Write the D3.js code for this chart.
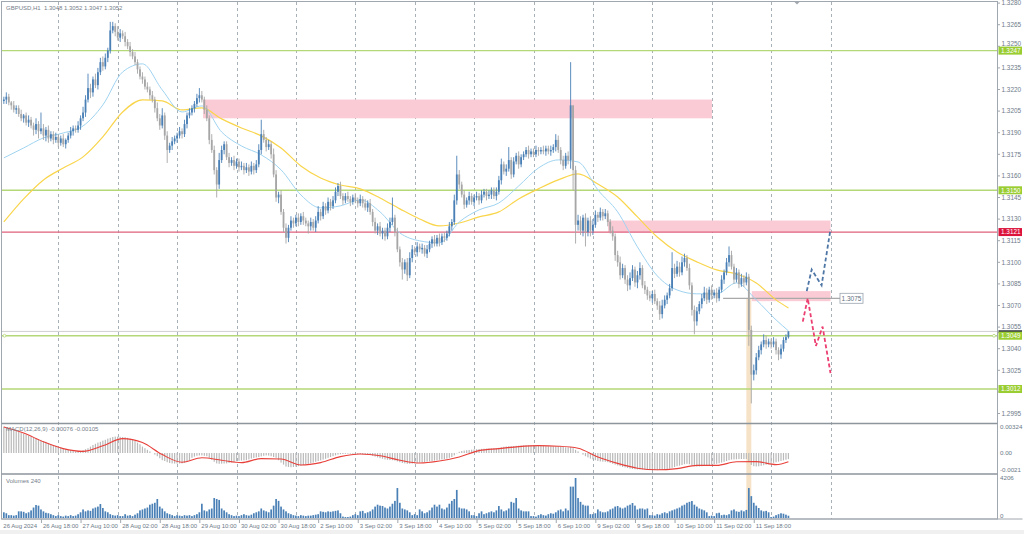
<!DOCTYPE html>
<html><head><meta charset="utf-8">
<script src="https://cdn.jsdelivr.net/npm/d3@7"></script>
<style>
body{margin:0;background:#fff}
svg{display:block}
text{font-family:"Liberation Sans",Arial,sans-serif}
</style>
</head><body>
<svg id="c" width="1024" height="534"></svg>
<script>
// ---------------- DATA ----------------
const firstOpen = 1.3212;
const closes = [
1.3213,1.3215,1.3211,1.3209,1.3206,1.3207,1.3203,1.3200,1.3202,1.3197,
1.3199,1.3195,1.3192,1.3196,1.3191,1.3193,1.3188,1.3192,1.3186,1.3189,
1.3185,1.3187,1.3183,1.3186,1.3182,1.3185,1.3188,1.3191,1.3193,1.3192,
1.3195,1.3200,1.3204,1.3213,1.3221,1.3218,1.3227,1.3223,1.3232,1.3239,
1.3236,1.3242,1.3247,1.3261,1.3264,1.3260,1.3256,1.3259,1.3257,1.3253,
1.3250,1.3246,1.3243,1.3239,1.3234,1.3229,1.3227,1.3222,1.3220,1.3216,
1.3213,1.3207,1.3200,1.3195,1.3202,1.3188,1.3178,1.3181,1.3184,1.3186,
1.3188,1.3191,1.3189,1.3196,1.3202,1.3204,1.3207,1.3210,1.3214,1.3216,
1.3213,1.3206,1.3200,1.3185,1.3178,1.3164,1.3154,1.3171,1.3178,1.3182,
1.3173,1.3169,1.3171,1.3167,1.3170,1.3166,1.3167,1.3164,1.3166,1.3163,
1.3167,1.3164,1.3168,1.3178,1.3189,1.3185,1.3180,1.3182,1.3175,1.3161,
1.3145,1.3147,1.3135,1.3124,1.3117,1.3124,1.3129,1.3127,1.3131,1.3128,
1.3132,1.3129,1.3127,1.3125,1.3128,1.3124,1.3129,1.3135,1.3132,1.3139,
1.3136,1.3142,1.3139,1.3143,1.3149,1.3153,1.3146,1.3143,1.3146,1.3144,
1.3142,1.3145,1.3143,1.3141,1.3144,1.3141,1.3138,1.3141,1.3135,1.3128,
1.3122,1.3125,1.3120,1.3122,1.3118,1.3124,1.3128,1.3131,1.3121,1.3109,
1.3100,1.3095,1.3100,1.3091,1.3103,1.3109,1.3107,1.3111,1.3109,1.3110,
1.3106,1.3109,1.3113,1.3116,1.3113,1.3117,1.3114,1.3118,1.3117,1.3120,
1.3125,1.3128,1.3143,1.3161,1.3154,1.3147,1.3140,1.3143,1.3146,1.3142,
1.3145,1.3146,1.3143,1.3147,1.3149,1.3146,1.3147,1.3150,1.3146,1.3149,
1.3157,1.3168,1.3163,1.3165,1.3171,1.3161,1.3170,1.3174,1.3168,1.3173,
1.3175,1.3178,1.3175,1.3177,1.3175,1.3178,1.3177,1.3178,1.3177,1.3179,
1.3177,1.3178,1.3180,1.3185,1.3178,1.3171,1.3167,1.3174,1.3171,1.3209,
1.3164,1.3126,1.3129,1.3122,1.3131,1.3121,1.3129,1.3122,1.3126,1.3133,
1.3131,1.3135,1.3132,1.3134,1.3128,1.3122,1.3118,1.3105,1.3100,1.3091,
1.3096,1.3088,1.3084,1.3089,1.3095,1.3086,1.3091,1.3096,1.3084,1.3081,
1.3077,1.3075,1.3078,1.3073,1.3070,1.3064,1.3070,1.3074,1.3077,1.3082,
1.3096,1.3092,1.3097,1.3093,1.3100,1.3103,1.3096,1.3084,1.3067,1.3059,
1.3066,1.3071,1.3075,1.3079,1.3074,1.3081,1.3077,1.3079,1.3075,1.3081,
1.3088,1.3093,1.3100,1.3105,1.3097,1.3088,1.3093,1.3085,1.3089,1.3086,
1.3090,1.3053,1.3022,1.3025,1.3034,1.3039,1.3043,1.3046,1.3043,1.3045,
1.3043,1.3045,1.3039,1.3036,1.3040,1.3046,1.3048,1.3052];
// wick lengths beyond the body, in pips (0.0001)
const upWick = [
2,3,2,1,3,2,2,3,1,2, 3,2,2,4,2,11,3,2,3,2, 2,3,2,2,3,1,2,3,2,2, 3,2,4,3,10,3,2,4,3,3,
4,3,2,6,3,2,4,3,2,3, 2,3,2,3,2,2,3,2,3,2, 3,2,4,3,5,2,3,2,3,2, 2,3,2,3,2,3,2,2,3,5,
3,2,3,2,4,3,2,5,3,2, 2,3,2,3,2,2,3,2,3,2, 3,2,3,4,10,3,2,3,2,4, 3,2,3,2,3,2,3,2,2,3,
2,3,2,2,3,2,3,4,2,3, 2,3,2,3,3,2,3,2,2,3, 2,2,3,2,3,2,3,2,3,2, 3,2,3,2,2,3,3,14,2,3,
2,3,2,3,4,3,2,3,2,3, 2,3,2,2,3,2,3,2,3,2, 3,2,4,13,3,2,3,2,3,2, 2,3,2,3,2,2,3,2,2,3,
3,4,2,3,9,2,3,2,3,2, 2,2,3,2,2,3,2,2,3,2, 2,3,2,4,3,2,3,2,3,30, 0,3,4,3,2,3,2,3,4,3,
2,3,2,3,2,2,3,2,3,4, 3,2,3,4,3,2,3,4,2,3, 2,3,2,3,2,3,4,3,2,3, 11,3,4,3,4,3,2,3,2,3,
3,2,3,4,3,2,3,2,3,2, 3,2,3,6,3,2,3,2,3,2, 3,2,3,4,3,3,2,4,3,2, 2,3,2,2,3,2,2,0];
const downWick = [
2,3,2,3,2,3,2,2,3,2, 3,2,4,3,5,2,3,4,3,2, 3,2,3,2,2,3,2,2,3,2, 2,3,2,3,2,4,3,2,3,2,
3,2,3,2,2,3,2,3,2,3, 2,3,2,2,3,2,3,2,2,3, 2,3,2,3,2,3,9,2,3,2, 3,2,3,2,3,2,2,3,2,3,
2,3,2,3,2,3,9,3,2,3, 2,3,2,3,2,3,2,3,2,3, 2,3,2,2,3,2,3,2,3,2, 3,4,2,3,4,3,2,3,2,3,
2,3,2,5,3,2,3,2,3,2, 3,2,3,2,2,3,2,3,2,2, 3,2,2,3,2,3,2,3,2,3, 2,3,2,4,3,2,3,2,3,2,
3,7,3,4,2,3,2,3,2,3, 2,3,2,3,2,2,3,2,3,2, 2,3,2,3,3,2,3,2,3,2, 3,2,3,2,2,3,2,3,2,3,
2,3,2,3,2,3,2,2,3,2, 2,2,3,2,2,2,3,2,2,3, 2,3,2,3,2,3,3,2,3,6, 14,13,4,3,4,10,3,4,3,2,
3,2,3,2,3,2,3,4,3,3, 2,3,4,3,2,3,4,3,2,3, 3,2,3,2,3,4,3,2,3,2, 2,3,2,3,2,3,2,3,4,9,
3,2,3,2,3,2,3,2,3,2, 2,3,2,3,2,3,2,3,2,3, 2,11,20,4,3,2,3,2,3,2, 3,2,3,4,3,2,2,1];
const volumes = [
600,500,300,300,250,300,700,700,650,500,600,800,1100,1365,1300,900,700,550,500,400,300,200,
300,200,150,250,200,300,200,250,400,600,900,700,800,750,1000,1100,1200,1470,1050,700,600,400,300,250,
300,200,200,400,250,300,200,350,500,800,900,1000,1100,1400,1500,1600,2000,1200,1000,700,500,400,300,200,
300,250,200,300,250,300,200,300,400,600,1500,800,700,900,1000,2100,2000,1900,1000,800,600,400,300,200,
250,200,300,400,300,250,350,500,600,700,1000,800,700,600,900,1300,2000,1800,1200,900,700,500,400,300,
250,200,300,250,200,250,250,300,350,400,700,650,600,700,650,700,750,800,500,150,100,100,150,300,
400,300,700,750,500,600,700,900,1200,1400,1300,1260,1100,1000,1200,1500,1800,3150,1600,1000,900,800,600,300,
400,300,900,700,500,600,800,1100,1400,1200,1400,1000,900,1100,1500,1800,2000,2950,1100,1000,1000,900,700,300,
300,200,500,700,400,500,600,700,600,800,1260,900,700,800,1000,1700,1600,2100,1000,800,700,700,700,200,
200,150,300,400,300,250,400,500,450,600,800,900,700,1000,800,3300,3300,4206,2100,1700,1400,1300,1300,400,
400,500,900,700,600,600,700,900,1000,1200,1260,1100,1000,1100,1300,1400,1575,1300,900,1000,1000,900,1000,300,
300,250,400,350,500,600,500,700,800,900,1000,1100,1300,1400,1600,1700,1785,1400,1200,1000,900,800,600,200,
250,200,500,550,300,350,300,400,800,900,700,650,800,700,850,3150,2300,1600,1300,1050,800,700,750,600,
100,150,300,400,500,450,350,240];
// MACD main (histogram), in units of 0.00001
const macdHist = [
330,320,310,300,290,280,265,250,240,228,218,210,195,185,175,165,150,140,125,110,100,90,80,70,60,50,40,35,28,20,
20,25,35,48,60,80,100,115,130,140,155,165,180,190,200,205,205,202,200,198,190,180,165,150,130,110,80,60,40,20,
0,-20,-40,-65,-90,-100,-115,-125,-130,-132,-132,-131,-130,-125,-110,-90,-60,-45,-35,-30,-30,-35,-40,-60,-85,-110,-130,-135,-133,-131,
-130,-125,-118,-110,-100,-97,-95,-92,-90,-80,-70,-62,-55,-50,-42,-35,-30,-32,-40,-50,-60,-90,-120,-145,-170,-175,-178,-175,-170,-165,
-160,-150,-142,-135,-128,-120,-110,-100,-92,-82,-72,-60,-50,-40,-30,-20,-15,-12,-10,-8,-8,-10,-12,-14,-15,-16,-18,-20,-25,-35,
-45,-55,-65,-72,-80,-85,-88,-90,-95,-105,-115,-125,-130,-135,-135,-132,-128,-124,-120,-116,-112,-108,-104,-100,-95,-90,-85,-80,-75,-70,
-60,-50,-30,-5,15,25,30,35,38,42,45,48,50,52,54,55,56,57,58,60,65,72,78,82,85,86,88,90,92,93,
95,96,96,95,94,93,92,90,88,86,85,84,84,84,84,80,75,72,70,75,60,40,20,0,-20,-40,-55,-70,-80,-90,
-100,-105,-108,-110,-115,-125,-135,-145,-155,-165,-175,-180,-188,-195,-200,-203,-205,-206,-207,-208,-210,-212,-213,-214,-214,-212,-210,-205,-200,-195,
-185,-175,-165,-158,-150,-140,-135,-140,-155,-165,-170,-168,-165,-160,-155,-150,-145,-140,-135,-128,-120,-110,-100,-90,-82,-80,-78,-76,-75,-75,
-74,-110,-150,-165,-168,-166,-160,-153,-146,-140,-132,-124,-116,-108,-100,-92,-84,-76];
// sampled indicator lines (bar index -> value)
const lineBars = [0,8,16,24,32,40,48,56,64,72,80,88,96,104,112,120,128,136,144,152,160,168,176,184,192,200,208,216,224,232,240,248,256,264,272,280,288,296,304,312,317];
const maFast = [1.31725,1.31794,1.31864,1.31898,1.31947,1.32093,1.32322,1.32378,1.32197,1.32044,1.32086,1.31905,1.31808,1.31746,1.31642,1.31468,1.31378,1.31392,1.31433,1.31350,1.31204,1.31149,1.31135,1.31280,1.31364,1.31412,1.31530,1.31655,1.31711,1.31697,1.31503,1.31350,1.31107,1.30906,1.30808,1.30781,1.30781,1.30857,1.30739,1.30600,1.30524];
const maSlow = [1.31280,1.31440,1.31572,1.31655,1.31732,1.31871,1.32044,1.32128,1.32121,1.32058,1.32072,1.31996,1.31933,1.31878,1.31794,1.31669,1.31586,1.31537,1.31510,1.31447,1.31371,1.31301,1.31253,1.31273,1.31315,1.31350,1.31440,1.31510,1.31572,1.31614,1.31544,1.31454,1.31315,1.31176,1.31072,1.31003,1.30947,1.30919,1.30857,1.30739,1.30683];
const macdSignal = [325,250,140,55,20,90,180,130,-20,-115,-60,-90,-120,-70,-75,-150,-120,-45,-12,-35,-90,-125,-100,-50,30,55,80,92,85,60,-50,-130,-190,-210,-195,-155,-155,-110,-108,-145,-108];
// x axis
const timeLabels = ["26 Aug 2024","26 Aug 18:00","27 Aug 10:00","28 Aug 02:00","28 Aug 18:00","29 Aug 10:00","30 Aug 02:00","30 Aug 18:00","2 Sep 10:00","3 Sep 02:00","3 Sep 18:00","4 Sep 10:00","5 Sep 02:00","5 Sep 18:00","6 Sep 10:00","9 Sep 02:00","9 Sep 18:00","10 Sep 10:00","11 Sep 02:00","11 Sep 18:00"];
const timeLabelBars = [0,16,32,48,64,80,96,112,128,144,160,176,192,208,224,240,256,272,288,304];
const daySeparatorBars = [22,46,70,94,118,142,166,190,214,238,262,286,310,334];
const priceTicks = [1.2995,1.3010,1.3025,1.3040,1.3055,1.3070,1.3085,1.3100,1.3115,1.3130,1.3145,1.3160,1.3175,1.3190,1.3205,1.3220,1.3235,1.3250,1.3265,1.3280];
// levels & zones
const greenLevels = [1.3247,1.3150,1.3049,1.3012];
const redLevel = 1.3121;
const bidPrice = 1.3052;
const markLevel = 1.3075, markFromBar = 290.6;
const zoneFromBar = [80.5,244.1,302.2];
const zoneToBar = [286.1,334,334];
const zoneHigh = [1.3213,1.3129,1.3080];
const zoneLow = [1.3200,1.3121,1.3073];
const highlightBar = 301;
const bullPathBars = [324.4,326.4,330.4,334.0];
const bullPathPrices = [1.3080,1.3095,1.3084,1.3123];
const bearPathBars = [322.8,324.8,328.1,330.8,334.0];
const bearPathPrices = [1.30588,1.30750,1.30419,1.30553,1.30230];

// ---------------- CHART ----------------
const svg = d3.select("#c");
const W = 1024, H = 534, axisX = 997.5;
const x = d3.scaleLinear().domain([0,334]).range([3.85,830.5]);
const y = d3.scaleLinear().domain([1.2995,1.3280]).range([413.5,3.1]);
const yM = d3.scaleLinear().domain([-0.0021,0.00324]).range([469.8,427.1]);
const yV = d3.scaleLinear().domain([0,4206]).range([518,478]);

const bars = closes.map((c,i)=>{
  const o = i===0 ? firstOpen : closes[i-1];
  return {i, o, c, h: Math.max(o,c)+upWick[i]*0.0001, l: Math.min(o,c)-downWick[i]*0.0001, v: volumes[i], m: macdHist[i]*1e-5};
});

svg.append("rect").attr("width",W).attr("height",H).attr("fill","#fff");
svg.append("rect").attr("x",0).attr("y",530).attr("width",W).attr("height",4).attr("fill","#f0f0f0");

const defs = svg.append("defs");
defs.append("clipPath").attr("id","mainClip").append("rect").attr("x",2).attr("y",2).attr("width",axisX-2).attr("height",421);

// beige highlight column
svg.append("rect").attr("x",x(highlightBar-1)).attr("width",x(highlightBar+1)-x(highlightBar-1))
  .attr("y",y(markLevel)).attr("height",518-y(markLevel)).attr("fill","#f6e2c6");

// day separators
svg.append("g").selectAll("line").data(daySeparatorBars).join("line")
  .attr("x1",d=>Math.round(x(d))+0.5).attr("x2",d=>Math.round(x(d))+0.5)
  .attr("y1",2).attr("y2",519).attr("stroke","#a8b0b8").attr("stroke-width",1).attr("stroke-dasharray","3,3");

const main = svg.append("g").attr("clip-path","url(#mainClip)");

// zones
main.selectAll("rect.zone").data(zoneFromBar).join("rect").attr("class","zone")
  .attr("x",(d)=>x(d)).attr("width",(d,k)=>x(zoneToBar[k])-x(d))
  .attr("y",(d,k)=>y(zoneHigh[k])).attr("height",(d,k)=>y(zoneLow[k])-y(zoneHigh[k]))
  .attr("fill","#fbcbd5");

// level lines
main.append("line").attr("x1",2).attr("x2",axisX).attr("y1",y(bidPrice)).attr("y2",y(bidPrice)).attr("stroke","#cfcfcf").attr("stroke-width",1);
main.selectAll("line.g").data(greenLevels).join("line").attr("class","g")
  .attr("x1",2).attr("x2",axisX).attr("y1",d=>y(d)).attr("y2",d=>y(d))
  .attr("stroke","#b4d777").attr("stroke-width",1.4);
main.append("line").attr("x1",2).attr("x2",axisX).attr("y1",y(redLevel)).attr("y2",y(redLevel)).attr("stroke","#e0607c").attr("stroke-width",1.2);
main.append("circle").attr("cx",4.5).attr("cy",y(1.3049)).attr("r",1.4).attr("fill","#fff").attr("stroke","#b4d777").attr("stroke-width",0.8);
main.append("circle").attr("cx",994).attr("cy",y(1.3049)).attr("r",1.4).attr("fill","#fff").attr("stroke","#b4d777").attr("stroke-width",0.8);

// marked level with label
main.append("line").attr("x1",x(markFromBar)).attr("x2",840).attr("y1",y(markLevel)).attr("y2",y(markLevel)).attr("stroke","#a9a9a9").attr("stroke-width",1.2);

// moving averages
const lineGen = (vals, sc) => d3.line().x((d,k)=>x(lineBars[k])).y(d=>sc(d)).curve(d3.curveMonotoneX)(vals);
main.append("path").attr("d",lineGen(maSlow,y)).attr("fill","none").attr("stroke","#f9d54c").attr("stroke-width",1.2);
main.append("path").attr("d",lineGen(maFast,y)).attr("fill","none").attr("stroke","#9fd3f0").attr("stroke-width",1);

// candles
const cg = main.append("g");
cg.selectAll("line").data(bars).join("line")
  .attr("x1",d=>x(d.i)).attr("x2",d=>x(d.i)).attr("y1",d=>y(d.h)).attr("y2",d=>y(d.l))
  .attr("stroke",d=>d.c>=d.o?"#4a80b6":"#a6a6a6").attr("stroke-width",0.9);
cg.selectAll("rect").data(bars).join("rect")
  .attr("x",d=>x(d.i)-0.9).attr("width",1.8)
  .attr("y",d=>y(Math.max(d.o,d.c))).attr("height",d=>Math.max(0.8,Math.abs(y(d.o)-y(d.c))))
  .attr("fill",d=>d.c>=d.o?"#4a80b6":"#a6a6a6");

// projections
const pathGen = (b,p)=>d3.line().x((d,k)=>x(b[k])).y(d=>y(d))(p);
svg.append("path").attr("d",pathGen(bullPathBars,bullPathPrices)).attr("fill","none").attr("stroke","#4f77a6").attr("stroke-width",1.8).attr("stroke-dasharray","4,2.5");
svg.append("path").attr("d",pathGen(bearPathBars,bearPathPrices)).attr("fill","none").attr("stroke","#ec3f71").attr("stroke-width",1.8).attr("stroke-dasharray","4,2.5");

// marked level label
svg.append("rect").attr("x",840).attr("y",y(markLevel)-5).attr("width",23).attr("height",10).attr("fill","#fff").attr("stroke","#9aa4ae").attr("stroke-width",0.8);
svg.append("text").attr("x",851.5).attr("y",y(markLevel)+2.2).attr("text-anchor","middle").attr("font-size",6.5).attr("fill","#5f6f80").text(markLevel.toFixed(4));

// MACD panel
svg.append("g").selectAll("rect").data(bars).join("rect")
  .attr("x",d=>x(d.i)-0.6).attr("width",1.2)
  .attr("y",d=>Math.min(yM(0),yM(d.m))).attr("height",d=>Math.abs(yM(d.m)-yM(0)))
  .attr("fill","#b9b9b9");
svg.append("path").attr("d",d3.line().x((d,k)=>x(lineBars[k])).y(d=>yM(d*1e-5)).curve(d3.curveMonotoneX)(macdSignal))
  .attr("fill","none").attr("stroke","#e8403a").attr("stroke-width",1.1);

// Volume panel
svg.append("g").selectAll("rect").data(bars).join("rect")
  .attr("x",d=>x(d.i)-0.85).attr("width",1.7)
  .attr("y",d=>yV(d.v)).attr("height",d=>yV(0)-yV(d.v))
  .attr("fill","#4a80b6");

// frames
const fr = svg.append("g").attr("stroke","#a0a7ae").attr("fill","none");
fr.append("rect").attr("x",1.5).attr("y",1.5).attr("width",axisX-1.5).attr("height",517.5).attr("stroke-width",1);
fr.append("line").attr("x1",1.5).attr("x2",axisX).attr("y1",423.5).attr("y2",423.5).attr("stroke","#8d959d").attr("stroke-width",1.5);
fr.append("line").attr("x1",1.5).attr("x2",axisX).attr("y1",474).attr("y2",474).attr("stroke","#8d959d").attr("stroke-width",1.5);
fr.append("line").attr("x1",1.5).attr("x2",axisX+25).attr("y1",519).attr("y2",519).attr("stroke-width",1);

// right axis ticks and labels
const axCol = "#6d7a88";
const boxPrices = greenLevels.concat([redLevel]);
const visibleTicks = priceTicks.filter(t => boxPrices.every(p => Math.abs(y(t)-y(p)) > 3));
// a label that sits just above a price box is lifted so its text stays clear of the box text
const labelY = t => {
  const near = boxPrices.find(p => Math.abs(y(t)-y(p)) <= 7 && y(t) < y(p));
  return near !== undefined ? y(near) - 4.6 : y(t) + 2.2;
};
const ta = svg.append("g");
ta.selectAll("line").data(priceTicks).join("line").attr("x1",axisX).attr("x2",axisX+2.5)
  .attr("y1",d=>y(d)).attr("y2",d=>y(d)).attr("stroke","#a0a7ae");
ta.selectAll("text").data(visibleTicks).join("text").attr("x",1001.5).attr("y",labelY)
  .attr("font-size",6.4).attr("fill",axCol).text(d=>d.toFixed(4));
const sideLabels = [["0.00324",yM(0.00324)],["0.00",yM(0)],["-0.0021",yM(-0.0021)],["4206",yV(4206)],["0",yV(0)-2]];
ta.selectAll("text.s").data(sideLabels).join("text").attr("class","s").attr("x",1000).attr("y",d=>d[1]+2.2)
  .attr("font-size",6.2).attr("fill",axCol).text(d=>d[0]);

// price boxes
function priceBox(p, fill){
  const g = svg.append("g");
  g.append("rect").attr("x",998.5).attr("y",y(p)-4).attr("width",23.5).attr("height",8).attr("fill",fill);
  g.append("text").attr("x",1001).attr("y",y(p)+2.3).attr("font-size",6.4).attr("fill","#fff").text(p.toFixed(4));
}
// bid marker: only a sliver shows above the 1.3049 box
svg.append("rect").attr("x",998.5).attr("y",y(bidPrice)-1.2).attr("width",23.5).attr("height",3).attr("fill","#3a3f45");
greenLevels.forEach(p=>priceBox(p,"#9acd32"));
priceBox(redLevel,"#dc143c");

// time axis
const tx = svg.append("g");
tx.selectAll("line").data(timeLabelBars.slice(1)).join("line")
  .attr("x1",d=>x(d)-2).attr("x2",d=>x(d)-2).attr("y1",519).attr("y2",523).attr("stroke","#a0a7ae");
tx.selectAll("text").data(timeLabels).join("text")
  .attr("x",(d,k)=>x(timeLabelBars[k])-0.5).attr("y",528)
  .attr("font-size",6).attr("fill",axCol).text(d=>d);

// shift marker
svg.append("path").attr("d","M794,1.5L800,1.5L797,4.5Z").attr("fill","#a0a7ae");

// captions
svg.append("text").attr("x",6).attr("y",9.5).attr("font-size",6).attr("fill","#76808a").style("white-space","pre")
  .text("GBPUSD,H1  1.3048 1.3052 1.3047 1.3052");
svg.append("text").attr("x",6).attr("y",431).attr("font-size",6).attr("fill","#76808a")
  .text("MACD(12,26,9) -0.00076 -0.00105");
svg.append("text").attr("x",6).attr("y",483).attr("font-size",6).attr("fill","#76808a")
  .text("Volumes 240");
</script>
</body></html>
